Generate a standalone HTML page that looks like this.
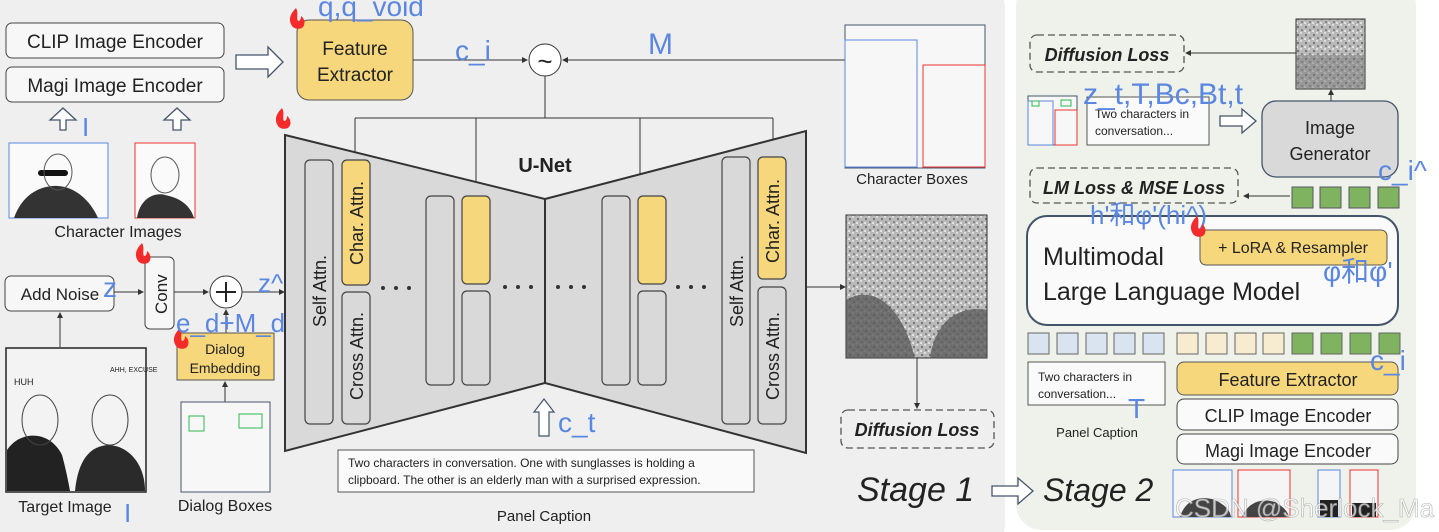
<!DOCTYPE html>
<html><head><meta charset="utf-8"><style>
html,body{margin:0;padding:0;background:#fff;}
svg{display:block;}
text{font-family:"Liberation Sans","Noto Sans CJK SC",sans-serif;}
.b{fill:#5b87e0;}
</style></head><body>
<svg width="1439" height="532" viewBox="0 0 1439 532" xmlns="http://www.w3.org/2000/svg">
<defs>
<marker id="ar" markerWidth="6" markerHeight="6" refX="5" refY="3" orient="auto"><path d="M0,0 L6,3 L0,6z" fill="#333"/></marker>
<pattern id="noise" width="8" height="8" patternUnits="userSpaceOnUse"><rect width="8" height="8" fill="#b8b8b8"/><rect x="1" y="2" width="2" height="2" fill="#777"/><rect x="5" y="5" width="2" height="2" fill="#888"/><rect x="4" y="0" width="2" height="2" fill="#ddd"/><rect x="0" y="6" width="2" height="2" fill="#e0e0e0"/></pattern>
<g id="fire"><path d="M6,0 C0,6 -2,12 2,18 C4,21 10,22 13,19 C16,15 14,10 11,8 C11,11 10,13 8,13 C6,10 9,5 6,0z" fill="#f52a2a"/></g>
</defs>
<rect x="-20" y="-20" width="1025" height="572" rx="28" fill="#efefef"/>
<rect x="1016" y="-20" width="400" height="550" rx="26" fill="#eef2ea"/>

<rect x="6" y="23" width="218" height="35" rx="6" fill="#f7f7f7" stroke="#444"/>
<text x="115" y="48" font-size="19" text-anchor="middle" fill="#222">CLIP Image Encoder</text>
<rect x="6" y="67" width="218" height="35" rx="6" fill="#f7f7f7" stroke="#444"/>
<text x="115" y="92" font-size="19" text-anchor="middle" fill="#222">Magi Image Encoder</text>
<path d="M236,55 H268 V47 L283,62 L268,77 V69 H236z" fill="#fff" stroke="#44546a" stroke-width="1.3"/>
<path d="M60,130 V120 H50 L63,108 L76,120 H66 V130z" fill="#fff" stroke="#44546a" stroke-width="1.3"/>
<path d="M173,130 V120 H164 L177,108 L190,120 H181 V130z" fill="#fff" stroke="#44546a" stroke-width="1.3"/>
<text x="82" y="136" font-size="26" class="b">I</text>
<rect x="9" y="143" width="99" height="75" fill="#fafafa" stroke="#5b87e0"/>
<path d="M14,218 C22,195 40,185 58,186 C75,187 90,200 98,218z" fill="#333"/>
<rect x="38" y="170" width="30" height="6" rx="3" fill="#111"/>
<ellipse cx="58" cy="172" rx="14" ry="18" fill="none" stroke="#555"/>
<rect x="135" y="143" width="60" height="75" fill="#fafafa" stroke="#e33"/>
<path d="M137,218 C140,198 155,192 165,195 C180,198 190,205 194,218z" fill="#333"/>
<ellipse cx="165" cy="175" rx="14" ry="18" fill="none" stroke="#555"/>
<text x="118" y="237" font-size="16" text-anchor="middle" fill="#222">Character Images</text>

<rect x="297" y="20" width="116" height="80" rx="12" fill="#f6d77c" stroke="#555"/>
<text x="355" y="55" font-size="19" text-anchor="middle" fill="#222">Feature</text>
<text x="355" y="81" font-size="19" text-anchor="middle" fill="#222">Extractor</text>
<use href="#fire" x="290" y="8"/>
<text x="318" y="16" font-size="28" class="b">q,q_void</text>
<line x1="413" y1="60" x2="527" y2="60" stroke="#333" marker-end="url(#ar)"/>
<text x="455" y="60" font-size="28" class="b">c_i</text>
<circle cx="545" cy="60" r="16" fill="#fff" stroke="#333"/>
<text x="545" y="70" font-size="26" text-anchor="middle" fill="#222">~</text>
<line x1="845" y1="60" x2="563" y2="60" stroke="#333" marker-end="url(#ar)"/>
<text x="648" y="54" font-size="30" class="b">M</text>
<path d="M545,76 V118 M355,118 H773" stroke="#333" fill="none"/>
<line x1="355" y1="118" x2="355" y2="159" stroke="#333" marker-end="url(#ar)"/>
<line x1="476" y1="118" x2="476" y2="195" stroke="#333" marker-end="url(#ar)"/>
<line x1="640" y1="118" x2="640" y2="195" stroke="#333" marker-end="url(#ar)"/>
<line x1="773" y1="118" x2="773" y2="157" stroke="#333" marker-end="url(#ar)"/>

<polygon points="285,135 545,199 545,383 285,451" fill="#d9d9d9" stroke="#333" stroke-width="2"/>
<polygon points="545,199 806,131 806,453 545,383" fill="#d9d9d9" stroke="#333" stroke-width="2"/>
<use href="#fire" x="276" y="108"/>
<text x="545" y="172" font-size="20" font-weight="bold" text-anchor="middle" fill="#222">U-Net</text>
<g stroke="#444" stroke-width="1.2">
<rect x="305" y="160" width="28" height="264" rx="5" fill="#d9d9d9"/>
<rect x="342" y="160" width="28" height="125" rx="5" fill="#f6d77c"/>
<rect x="342" y="292" width="28" height="132" rx="5" fill="#d9d9d9"/>
<rect x="426" y="196" width="28" height="189" rx="5" fill="#d9d9d9"/>
<rect x="462" y="196" width="28" height="88" rx="5" fill="#f6d77c"/>
<rect x="462" y="291" width="28" height="94" rx="5" fill="#d9d9d9"/>
<rect x="602" y="196" width="28" height="189" rx="5" fill="#d9d9d9"/>
<rect x="638" y="196" width="28" height="88" rx="5" fill="#f6d77c"/>
<rect x="638" y="291" width="28" height="94" rx="5" fill="#d9d9d9"/>
<rect x="722" y="157" width="28" height="267" rx="5" fill="#d9d9d9"/>
<rect x="758" y="157" width="28" height="122" rx="5" fill="#f6d77c"/>
<rect x="758" y="287" width="28" height="137" rx="5" fill="#d9d9d9"/>
</g>
<g font-size="18" fill="#222">
<text transform="translate(326,327) rotate(-90)">Self Attn.</text>
<text transform="translate(363,265) rotate(-90)">Char. Attn.</text>
<text transform="translate(363,400) rotate(-90)">Cross Attn.</text>
<text transform="translate(743,327) rotate(-90)">Self Attn.</text>
<text transform="translate(779,263) rotate(-90)">Char. Attn.</text>
<text transform="translate(779,400) rotate(-90)">Cross Attn.</text>
</g>
<g fill="#333"><circle cx="383" cy="288" r="2"/><circle cx="396" cy="288" r="2"/><circle cx="409" cy="288" r="2"/>
<circle cx="505" cy="287" r="2"/><circle cx="518" cy="287" r="2"/><circle cx="531" cy="287" r="2"/>
<circle cx="558" cy="287" r="2"/><circle cx="571" cy="287" r="2"/><circle cx="584" cy="287" r="2"/>
<circle cx="678" cy="287" r="2"/><circle cx="691" cy="287" r="2"/><circle cx="704" cy="287" r="2"/></g>
<path d="M539,436 V412 H534 L544,399 L554,412 H549 V436z" fill="#fff" stroke="#44546a" stroke-width="1.2"/>
<text x="558" y="432" font-size="28" class="b">c_t</text>
<rect x="338" y="450" width="416" height="42" fill="#fafafa" stroke="#555"/>
<text x="348" y="467" font-size="12" fill="#222">Two characters in conversation. One with sunglasses is holding a</text>
<text x="348" y="484" font-size="12" fill="#222">clipboard. The other is an elderly man with a surprised expression.</text>
<text x="544" y="521" font-size="15" text-anchor="middle" fill="#222">Panel Caption</text>

<rect x="5" y="276" width="109" height="35" rx="6" fill="#f7f7f7" stroke="#444"/>
<text x="60" y="300" font-size="17" text-anchor="middle" fill="#222">Add Noise</text>
<text x="103" y="297" font-size="28" class="b">z</text>
<line x1="114" y1="292" x2="143" y2="292" stroke="#333" marker-end="url(#ar)"/>
<rect x="145" y="257" width="29" height="72" rx="5" fill="#f7f7f7" stroke="#444"/>
<text transform="translate(167,314) rotate(-90)" font-size="17" fill="#222">Conv</text>
<use href="#fire" x="136" y="243"/>
<line x1="174" y1="292" x2="208" y2="292" stroke="#333" marker-end="url(#ar)"/>
<circle cx="226" cy="292" r="16" fill="#fff" stroke="#333"/>
<path d="M216,292 H236 M226,282 V302" stroke="#222" stroke-width="2"/>
<line x1="242" y1="292" x2="284" y2="292" stroke="#333" marker-end="url(#ar)"/>
<text x="258" y="292" font-size="26" class="b">z^</text>
<line x1="226" y1="333" x2="226" y2="310" stroke="#333" marker-end="url(#ar)"/>
<rect x="177" y="333" width="97" height="47" fill="#f6d77c" stroke="#555"/>
<text x="225" y="354" font-size="14" text-anchor="middle" fill="#222">Dialog</text>
<text x="225" y="373" font-size="14" text-anchor="middle" fill="#222">Embedding</text>
<use href="#fire" x="174" y="328"/>
<text x="176" y="332" font-size="26" class="b">e_d+M_d</text>
<line x1="225" y1="402" x2="225" y2="382" stroke="#333" marker-end="url(#ar)"/>
<rect x="181" y="402" width="89" height="90" fill="#f7f7f7" stroke="#44546a"/>
<rect x="189" y="416" width="15" height="15" fill="none" stroke="#2eb84e"/>
<rect x="239" y="414" width="23" height="14" fill="none" stroke="#2eb84e"/>
<text x="225" y="511" font-size="16" text-anchor="middle" fill="#222">Dialog Boxes</text>
<line x1="60" y1="347" x2="60" y2="313" stroke="#333" marker-end="url(#ar)"/>
<rect x="6" y="348" width="140" height="144" fill="#f3f3f3" stroke="#222" stroke-width="1.5"/>
<path d="M7,491 V450 C20,430 50,430 62,455 C66,470 68,480 70,491z" fill="#222"/>
<path d="M75,491 C78,460 90,445 110,445 C130,447 145,465 145,491z" fill="#2a2a2a"/>
<ellipse cx="40" cy="420" rx="18" ry="25" fill="none" stroke="#444"/>
<ellipse cx="110" cy="420" rx="18" ry="25" fill="none" stroke="#444"/>
<text x="14" y="385" font-size="9" fill="#222">HUH</text>
<text x="110" y="372" font-size="7" fill="#222">AHH, EXCUSE</text>
<text x="65" y="512" font-size="16" text-anchor="middle" fill="#222">Target Image</text>
<text x="124" y="522" font-size="26" class="b">I</text>

<rect x="845" y="25" width="140" height="143" fill="#f7f7f7" stroke="#44546a"/>
<rect x="845" y="40" width="72" height="127" fill="none" stroke="#5b87e0"/>
<rect x="923" y="65" width="62" height="102" fill="none" stroke="#e33"/>
<text x="912" y="184" font-size="15" text-anchor="middle" fill="#222">Character Boxes</text>
<line x1="806" y1="287" x2="845" y2="287" stroke="#333" marker-end="url(#ar)"/>
<rect x="846" y="215" width="141" height="143" fill="url(#noise)" stroke="#333"/>
<path d="M846,358 V300 C870,285 900,300 915,358z" fill="#555" opacity="0.75"/>
<path d="M930,358 C935,320 960,305 987,310 V358z" fill="#555" opacity="0.75"/>
<line x1="917" y1="358" x2="917" y2="408" stroke="#333" marker-end="url(#ar)"/>
<rect x="841" y="410" width="153" height="38" rx="7" fill="none" stroke="#555" stroke-width="1.3" stroke-dasharray="7,4"/>
<text x="917" y="436" font-size="18" font-weight="bold" font-style="italic" text-anchor="middle" fill="#222">Diffusion Loss</text>
<text x="857" y="501" font-size="34" font-style="italic" fill="#222">Stage 1</text>
<path d="M992,486 H1018 V478 L1033,491 L1018,504 V496 H992z" fill="#fff" stroke="#44546a" stroke-width="1.3"/>

<rect x="1030" y="35" width="154" height="37" rx="7" fill="none" stroke="#555" stroke-width="1.3" stroke-dasharray="7,4"/>
<text x="1107" y="61" font-size="18" font-weight="bold" font-style="italic" text-anchor="middle" fill="#222">Diffusion Loss</text>
<line x1="1296" y1="53" x2="1186" y2="53" stroke="#333" marker-end="url(#ar)"/>
<rect x="1296" y="19" width="69" height="70" fill="url(#noise)" stroke="#333"/>
<rect x="1296" y="55" width="69" height="34" fill="#777" opacity="0.5"/>
<line x1="1331" y1="101" x2="1331" y2="90" stroke="#333" marker-end="url(#ar)"/>
<rect x="1028" y="96" width="49" height="49" fill="#f7f7f7" stroke="#44546a"/>
<rect x="1028" y="101" width="25" height="44" fill="none" stroke="#5b87e0"/>
<rect x="1055" y="110" width="22" height="35" fill="none" stroke="#e33"/>
<rect x="1032" y="101" width="7" height="5" fill="none" stroke="#2eb84e"/>
<rect x="1061" y="100" width="10" height="6" fill="none" stroke="#2eb84e"/>
<rect x="1087" y="97" width="122" height="48" fill="#fafafa" stroke="#555"/>
<text x="1095" y="118" font-size="12" fill="#222">Two characters in</text>
<text x="1095" y="135" font-size="12" fill="#222">conversation...</text>
<text x="1083" y="104" font-size="30" class="b">z_t,T,Bc,Bt,t</text>
<path d="M1220,116 H1242 V109 L1256,121 L1242,133 V126 H1220z" fill="#fff" stroke="#44546a" stroke-width="1.3"/>
<rect x="1262" y="101" width="136" height="76" rx="14" fill="#d9d9d9" stroke="#44546a" stroke-width="1.3"/>
<text x="1330" y="134" font-size="18" text-anchor="middle" fill="#222">Image</text>
<text x="1330" y="160" font-size="18" text-anchor="middle" fill="#222">Generator</text>
<text x="1378" y="180" font-size="28" class="b">c_i^</text>
<rect x="1030" y="168" width="208" height="35" rx="7" fill="none" stroke="#555" stroke-width="1.3" stroke-dasharray="7,4"/>
<text x="1134" y="194" font-size="18" font-weight="bold" font-style="italic" text-anchor="middle" fill="#222">LM Loss &amp; MSE Loss</text>
<line x1="1290" y1="196" x2="1244" y2="196" stroke="#333" marker-end="url(#ar)"/>
<g fill="#7fb35f" stroke="#556">
<rect x="1292" y="187" width="21" height="21"/><rect x="1320" y="187" width="21" height="21"/><rect x="1349" y="187" width="21" height="21"/><rect x="1378" y="187" width="21" height="21"/>
</g>
<rect x="1027" y="216" width="371" height="109" rx="20" fill="#fafafa" stroke="#44546a" stroke-width="2"/>
<text x="1090" y="224" font-size="26" class="b">h'和φ'(hi^)</text>
<text x="1043" y="265" font-size="25" fill="#222">Multimodal</text>
<text x="1043" y="300" font-size="25" fill="#222">Large Language Model</text>
<rect x="1200" y="230" width="187" height="35" rx="6" fill="#f6d77c" stroke="#555"/>
<text x="1293" y="253" font-size="16" text-anchor="middle" fill="#222">+ LoRA &amp; Resampler</text>
<use href="#fire" x="1191" y="216"/>
<text x="1323" y="281" font-size="28" class="b">φ和φ'</text>
<g stroke="#666">
<rect x="1028" y="333" width="21" height="21" fill="#dae3f0"/><rect x="1057" y="333" width="21" height="21" fill="#dae3f0"/><rect x="1086" y="333" width="21" height="21" fill="#dae3f0"/><rect x="1114" y="333" width="21" height="21" fill="#dae3f0"/><rect x="1143" y="333" width="21" height="21" fill="#dae3f0"/>
<rect x="1177" y="333" width="21" height="21" fill="#f8ecd0"/><rect x="1206" y="333" width="21" height="21" fill="#f8ecd0"/><rect x="1235" y="333" width="21" height="21" fill="#f8ecd0"/><rect x="1263" y="333" width="21" height="21" fill="#f8ecd0"/>
<rect x="1292" y="333" width="21" height="21" fill="#7fb35f"/><rect x="1321" y="333" width="21" height="21" fill="#7fb35f"/><rect x="1350" y="333" width="21" height="21" fill="#7fb35f"/><rect x="1379" y="333" width="21" height="21" fill="#7fb35f"/>
</g>
<rect x="1028" y="362" width="137" height="43" fill="#fafafa" stroke="#555"/>
<text x="1038" y="381" font-size="12" fill="#222">Two characters in</text>
<text x="1038" y="398" font-size="12" fill="#222">conversation...</text>
<text x="1128" y="418" font-size="28" class="b">T</text>
<text x="1097" y="437" font-size="13" text-anchor="middle" fill="#222">Panel Caption</text>
<rect x="1177" y="362" width="221" height="33" rx="7" fill="#f6d77c" stroke="#555"/>
<text x="1288" y="386" font-size="18" text-anchor="middle" fill="#222">Feature Extractor</text>
<text x="1370" y="370" font-size="28" class="b">c_i</text>
<rect x="1177" y="399" width="221" height="31" rx="7" fill="#fafafa" stroke="#444"/>
<text x="1288" y="422" font-size="18" text-anchor="middle" fill="#222">CLIP Image Encoder</text>
<rect x="1177" y="434" width="221" height="30" rx="7" fill="#fafafa" stroke="#444"/>
<text x="1288" y="457" font-size="18" text-anchor="middle" fill="#222">Magi Image Encoder</text>
<text x="1043" y="501" font-size="32" font-style="italic" fill="#222">Stage 2</text>
<rect x="1173" y="470" width="59" height="47" fill="#f5f5f5" stroke="#5b87e0"/>
<rect x="1238" y="470" width="52" height="47" fill="#f5f5f5" stroke="#e33"/>
<rect x="1318" y="470" width="22" height="47" fill="#f5f5f5" stroke="#5b87e0"/>
<rect x="1350" y="470" width="28" height="47" fill="#f5f5f5" stroke="#e33"/>
<path d="M1180,517 C1185,500 1200,495 1215,500 C1225,505 1230,510 1231,517z" fill="#444"/>
<path d="M1242,517 C1248,502 1262,498 1275,502 C1284,507 1288,512 1289,517z" fill="#444"/>
<rect x="1320" y="500" width="18" height="17" fill="#222"/>
<rect x="1352" y="503" width="24" height="14" fill="#222"/>
<text x="1175" y="517" font-size="26" fill="#fff" opacity="0.7" stroke="#999" stroke-width="0.6">CSDN @Sherlock_Ma</text>
</svg>
</body></html>
